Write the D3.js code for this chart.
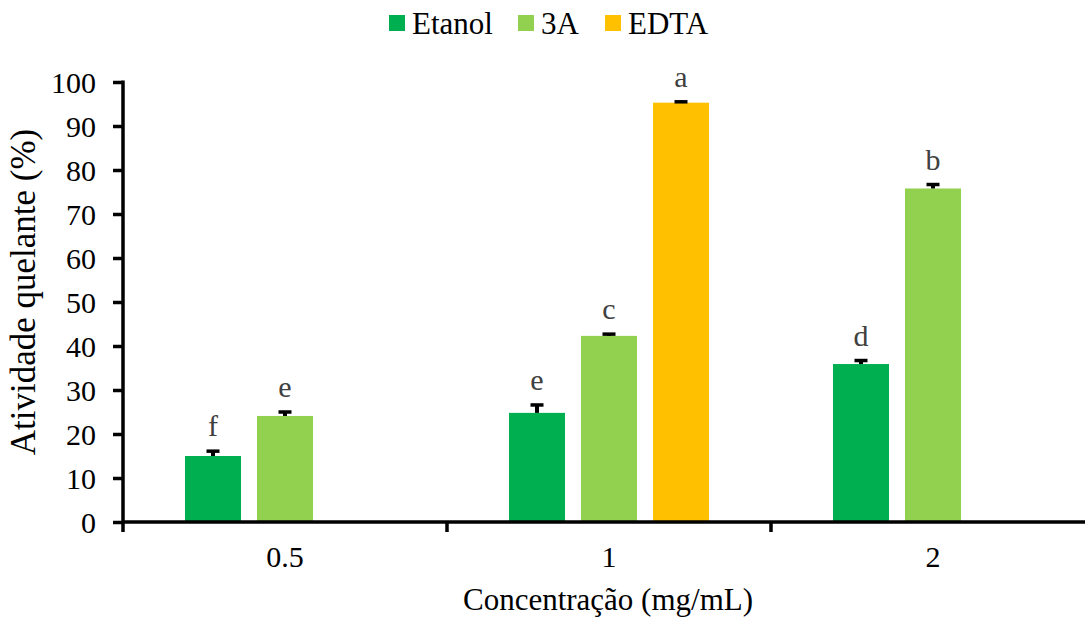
<!DOCTYPE html>
<html>
<head>
<meta charset="utf-8">
<script src="https://cdn.jsdelivr.net/npm/d3@7"></script>
</head>
<body style="margin:0">
<script>
// data
const categories = ['0.5', '1', '2'];
const seriesNames = ['Etanol', '3A', 'EDTA'];
const seriesColors = ['#00B050', '#92D050', '#FFC000'];

const etanolValues = [15.0, 24.8, 35.9];
const etanolErrors = [1.1, 1.8, 0.8];
const etanolLetters = ['f', 'e', 'd'];

const tresAValues = [24.1, 42.3, 75.8];
const tresAErrors = [0.9, 0.4, 0.9];
const tresALetters = ['e', 'c', 'b'];

const edtaValues = [null, 95.3, null];
const edtaErrors = [null, 0.2, null];
const edtaLetters = [null, 'a', null];

const yTicks = [0, 10, 20, 30, 40, 50, 60, 70, 80, 90, 100];

// build rows for the bars
const seriesValues = [etanolValues, tresAValues, edtaValues];
const seriesErrors = [etanolErrors, tresAErrors, edtaErrors];
const seriesLetters = [etanolLetters, tresALetters, edtaLetters];
const rows = [];
categories.forEach((c, i) => {
	seriesNames.forEach((s, j) => {
		if (seriesValues[j][i] == null) return;
		rows.push({
			cat: c,
			series: s,
			value: seriesValues[j][i],
			err: seriesErrors[j][i],
			letter: seriesLetters[j][i],
			color: seriesColors[j]
		});
	});
});

// dimension stuff
const width = 1085;
const height = 621;
const marginLeft = 123;
const marginTop = 82;
const plotBottom = 522;
const bandWidth = 324;
const serif = '"Liberation Serif"';
const fontSize = 30;

const $svg = d3.select('body').append('svg')
	.attr('width', width)
	.attr('height', height);

// scales
const scaleY = d3.scaleLinear()
	.domain([0, 100])
	.range([plotBottom, marginTop]);

const scaleX = d3.scaleBand()
	.domain(categories)
	.range([marginLeft, marginLeft + bandWidth * categories.length])
	.padding(0);

const scaleInner = d3.scaleBand()
	.domain(seriesNames)
	.range([bandWidth / 2 - 108, bandWidth / 2 + 108])
	.paddingInner(0.222)
	.paddingOuter(0.111);

// bars
const $vis = $svg.append('g').attr('class', 'g-vis');

$vis.selectAll('.bar')
	.data(rows)
	.enter()
	.append('rect')
	.attr('class', 'bar')
	.attr('x', d => scaleX(d.cat) + scaleInner(d.series))
	.attr('y', d => scaleY(d.value))
	.attr('width', scaleInner.bandwidth())
	.attr('height', d => plotBottom - scaleY(d.value))
	.attr('fill', d => d.color);

// error bars (upper only)
const cx = d => scaleX(d.cat) + scaleInner(d.series) + scaleInner.bandwidth() / 2;

$vis.selectAll('.err-stem')
	.data(rows)
	.enter()
	.append('line')
	.attr('class', 'err-stem')
	.attr('x1', cx)
	.attr('x2', cx)
	.attr('y1', d => scaleY(d.value))
	.attr('y2', d => scaleY(d.value + d.err))
	.attr('stroke', '#000')
	.attr('stroke-width', 4);

$vis.selectAll('.err-cap')
	.data(rows)
	.enter()
	.append('line')
	.attr('class', 'err-cap')
	.attr('x1', d => cx(d) - 6.5)
	.attr('x2', d => cx(d) + 6.5)
	.attr('y1', d => scaleY(d.value + d.err))
	.attr('y2', d => scaleY(d.value + d.err))
	.attr('stroke', '#000')
	.attr('stroke-width', 3.5);

// significance letters
$vis.selectAll('.letter')
	.data(rows)
	.enter()
	.append('text')
	.attr('class', 'letter')
	.attr('x', cx)
	.attr('y', d => scaleY(d.value + d.err) - 15)
	.attr('text-anchor', 'middle')
	.attr('font-size', fontSize)
	.attr('fill', '#404040')
	.style('font-family', serif)
	.text(d => d.letter);

// y axis
const $yAxis = $svg.append('g')
	.attr('class', 'g-axis-y')
	.attr('transform', `translate(${marginLeft}, 0)`)
	.call(d3.axisLeft(scaleY).tickValues(yTicks).tickSize(10).tickSizeOuter(0).tickPadding(17));

$yAxis.select('.domain')
	.attr('d', `M0,${marginTop - 1.5}V${plotBottom + 10}`)
	.attr('stroke-width', 3.5);
$yAxis.selectAll('.tick line').attr('stroke-width', 3.5);
$yAxis.selectAll('.tick text')
	.attr('font-size', fontSize)
	.attr('fill', '#000')
	.attr('dy', '0.34em')
	.style('font-family', serif);

// x axis: labels in band centres, ticks on band edges
const $xAxis = $svg.append('g')
	.attr('class', 'g-axis-x')
	.attr('transform', `translate(0, ${plotBottom})`)
	.call(d3.axisBottom(scaleX).tickSize(0).tickPadding(24));

$xAxis.select('.domain')
	.attr('d', `M${marginLeft},0H${width}`)
	.attr('stroke-width', 3.5);
$xAxis.selectAll('.tick text')
	.attr('font-size', fontSize)
	.attr('fill', '#000')
	.style('font-family', serif);

$xAxis.selectAll('.edge')
	.data(categories.slice(1))
	.enter()
	.append('line')
	.attr('class', 'edge')
	.attr('x1', d => scaleX(d))
	.attr('x2', d => scaleX(d))
	.attr('y1', 0)
	.attr('y2', 10)
	.attr('stroke', '#000')
	.attr('stroke-width', 3.5);

// axis titles
$svg.append('text')
	.attr('x', 608)
	.attr('y', 610)
	.attr('text-anchor', 'middle')
	.attr('font-size', 31)
	.style('font-family', serif)
	.text('Concentração (mg/mL)');

$svg.append('text')
	.attr('transform', 'translate(35, 292) rotate(-90)')
	.attr('text-anchor', 'middle')
	.attr('font-size', 35)
	.style('font-family', serif)
	.text('Atividade quelante (%)');

// legend
const legendX = [389, 518, 605];
const $legend = $svg.append('g').attr('class', 'g-legend');
const $item = $legend.selectAll('.legend-item')
	.data(seriesNames)
	.enter()
	.append('g')
	.attr('class', 'legend-item')
	.attr('transform', (d, i) => `translate(${legendX[i]}, 0)`);

$item.append('rect')
	.attr('x', 0)
	.attr('y', 15)
	.attr('width', 16)
	.attr('height', 16)
	.attr('fill', (d, i) => seriesColors[i]);

$item.append('text')
	.attr('x', 23)
	.attr('y', 34)
	.attr('font-size', 31)
	.style('font-family', serif)
	.text(d => d);
</script>
</body>
</html>
